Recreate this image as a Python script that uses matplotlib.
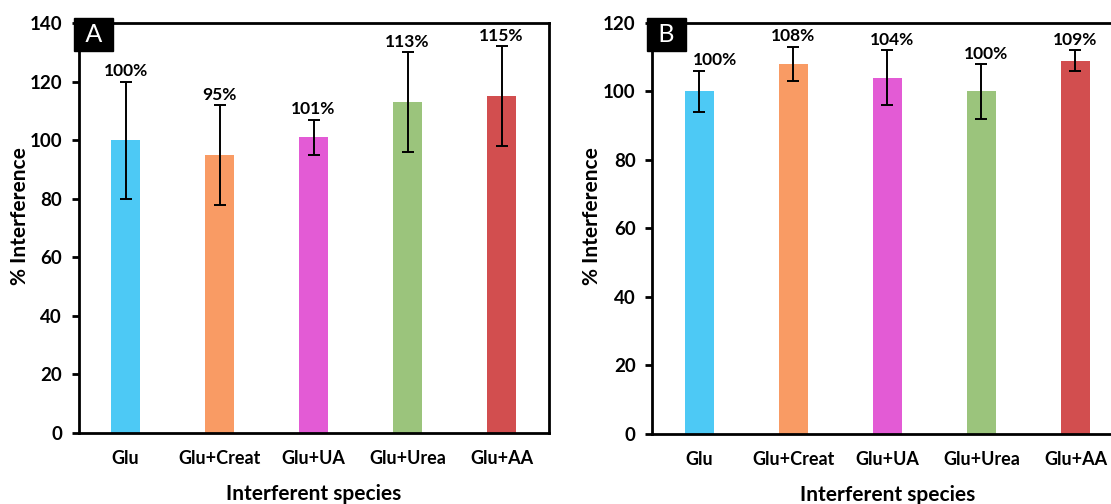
import matplotlib
matplotlib.use("Agg")
import matplotlib.pyplot as plt
import numpy as np

categories = ["Glu", "Glu+Creat", "Glu+UA", "Glu+Urea", "Glu+AA"]
colors = ["#4DC9F5", "#F99B64", "#E35BD5", "#9BC47C", "#D24E4F"]

values_a = [100, 95, 101, 113, 115]
errors_a = [20, 17, 6, 17, 17]
labels_a = ["100%", "95%", "101%", "113%", "115%"]

values_b = [100, 108, 104, 100, 109]
errors_b = [6, 5, 8, 8, 3]
labels_b = ["100%", "108%", "104%", "100%", "109%"]

plt.rcParams['font.family'] = ['Lato', 'DejaVu Sans']

fig = plt.figure(figsize=(11.11, 5.04), dpi=100)

def draw(ax, values, errors, labels, ymax, letter, label_dx=None):
    x = np.arange(len(categories))
    if label_dx is None:
        label_dx = [0] * len(categories)
    ax.bar(x, values, width=0.31, color=colors, zorder=2)
    ax.errorbar(x, values, yerr=errors, fmt='none', ecolor='black',
                elinewidth=1.4, capsize=4, capthick=1.4, zorder=3)
    for xi, v, e, lab, dx in zip(x, values, errors, labels, label_dx):
        ax.annotate(lab, (xi, v + e), xytext=(dx, 7.5), textcoords='offset points',
                    ha='center', va='center', fontsize=12.5, fontweight='bold')
    ax.set_xlim(-0.5, len(categories) - 0.5)
    ax.set_ylim(0, ymax)
    ax.set_yticks(np.arange(0, ymax + 1, 20))
    ax.set_xticks(x)
    ax.set_xticklabels(categories, fontsize=13, fontweight='bold')
    ax.tick_params(axis='x', length=0, pad=12)
    ax.tick_params(axis='y', direction='out', length=5, width=2, pad=7)
    for lab in ax.get_yticklabels():
        lab.set_fontsize(13.5)
        lab.set_fontweight('bold')
    for s in ax.spines.values():
        s.set_linewidth(2)
    ax.set_xlabel("Interferent species", fontsize=15, fontweight='bold')
    ax.xaxis.label.set_va('center')
    ax.xaxis.set_label_coords(0.5, -0.148)
    ax.set_ylabel("% Interference", fontsize=15, fontweight='bold')
    ax.yaxis.label.set_va('center')
    ax.text(0.0, 1.0, letter, transform=ax.transAxes, ha='left', va='top',
            color='white', fontsize=18,
            bbox=dict(boxstyle='square,pad=0.2', facecolor='black', edgecolor='black'))

ax_a = fig.add_axes([0.0707, 0.1409, 0.423, 0.8135])
draw(ax_a, values_a, errors_a, labels_a, 140, " A ")
ax_a.yaxis.set_label_coords(-0.124, 0.53)

ax_b = fig.add_axes([0.5873, 0.139, 0.423, 0.8155])
draw(ax_b, values_b, errors_b, labels_b, 120, " B ", label_dx=[11, 0, 3, 3, 0])
ax_b.yaxis.set_label_coords(-0.128, 0.53)

fig.savefig("out.png", dpi=100)
